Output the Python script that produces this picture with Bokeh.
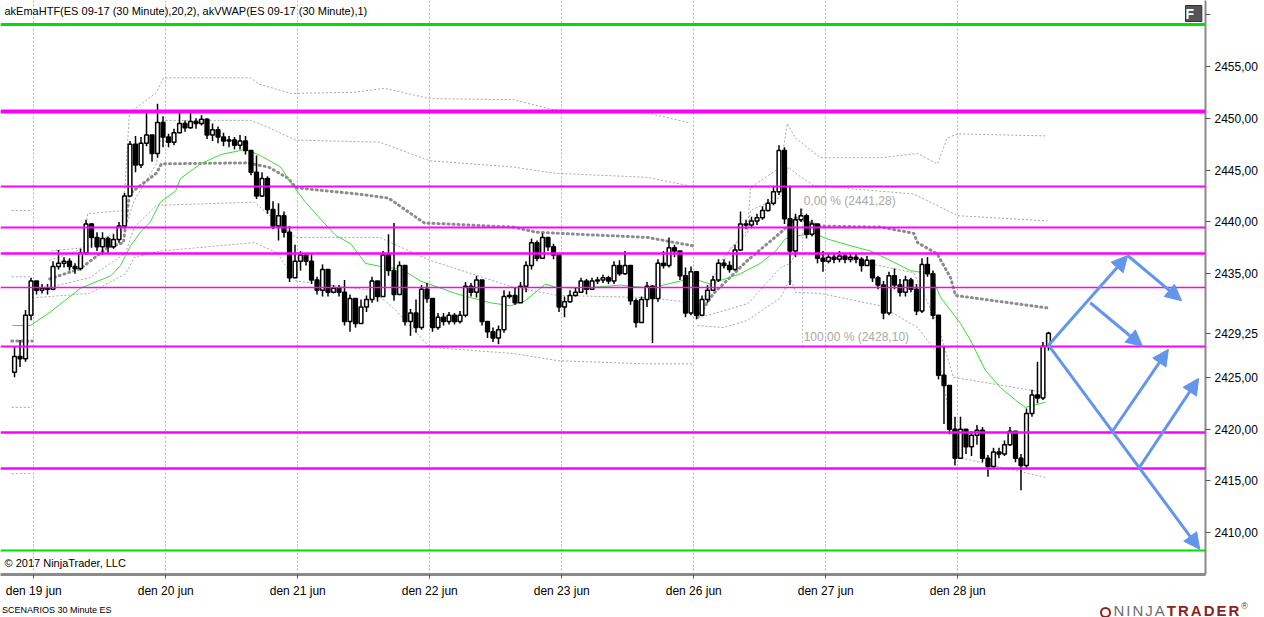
'''
ES 09-17 30 minute chart with scenario arrows, drawn with Bokeh.
'''
from bokeh.plotting import figure
from bokeh.layouts import column
from bokeh.models import (Range1d, FixedTicker, Span, Label, Arrow, NormalHead,
                          ColumnDataSource, Div)
from bokeh.embed import file_html
from bokeh.resources import INLINE

# --- price bars (about one bar per hour) ---
first_open = 2425.5
closes = [
    2427.0, 2426.8, 2431.0, 2434.3, 2433.4, 2433.6, 2433.5, 2435.7, 2436.0, 2436.2,
    2435.7, 2435.5, 2437.0, 2439.8, 2438.5, 2437.6, 2438.4, 2437.6, 2438.3, 2439.6,
    2442.5, 2447.5, 2445.5, 2447.6, 2448.4, 2446.6, 2449.6, 2448.2, 2447.7, 2448.6,
    2449.5, 2449.1, 2449.7, 2449.5, 2449.9, 2448.4, 2448.9, 2448.2, 2447.8, 2447.9,
    2447.4, 2447.8, 2446.9, 2444.8, 2442.5, 2444.2, 2441.2, 2439.6, 2440.6, 2439.0,
    2434.6, 2436.2, 2436.8, 2436.2, 2434.4, 2433.4, 2435.4, 2433.2, 2433.6, 2433.2,
    2430.4, 2432.6, 2430.2, 2431.8, 2432.5, 2434.3, 2432.8, 2436.8, 2435.3, 2433.0,
    2435.8, 2430.4, 2431.2, 2429.8, 2433.5, 2432.6, 2429.8, 2430.8, 2430.4, 2431.0,
    2430.4, 2431.0, 2433.8, 2433.2, 2434.4, 2430.4, 2429.4, 2428.8, 2429.6, 2432.8,
    2432.9, 2432.2, 2433.8, 2435.8, 2438.0, 2436.5, 2438.5, 2437.6, 2436.8, 2431.8,
    2432.3, 2432.9, 2433.2, 2434.3, 2433.5, 2434.3, 2434.4, 2434.6, 2434.3, 2435.8,
    2435.0, 2435.8, 2432.4, 2430.3, 2432.5, 2433.8, 2432.6, 2436.0, 2435.8, 2437.5,
    2437.2, 2434.8, 2431.2, 2435.2, 2431.0, 2432.5, 2433.4, 2434.4, 2436.0, 2435.8,
    2435.4, 2437.3, 2439.8, 2439.7, 2440.1, 2440.4, 2441.1, 2441.8, 2442.9, 2446.9,
    2440.3, 2437.2, 2440.2, 2440.6, 2438.8, 2439.8, 2436.5, 2436.2, 2436.6, 2436.4,
    2436.7, 2436.4, 2436.6, 2436.4, 2435.8, 2436.3, 2434.6, 2433.9, 2431.2, 2434.8,
    2433.9, 2433.2, 2434.4, 2433.5, 2431.4, 2435.9, 2435.0, 2431.0, 2425.2, 2424.2,
    2420.0, 2417.2, 2420.0, 2418.3, 2419.4, 2419.9, 2417.2, 2416.4, 2417.8, 2417.6,
    2418.5, 2419.8, 2417.2, 2416.5, 2421.5, 2423.3, 2423.0, 2428.0, 2429.25,
]
highs = [
    2428.0, 2428.6, 2431.5, 2434.6, 2434.0, 2434.0, 2434.0, 2436.2, 2437.3, 2436.6,
    2436.5, 2436.0, 2437.4, 2440.2, 2439.9, 2439.0, 2439.0, 2438.6, 2438.8, 2440.0,
    2442.8, 2447.8, 2448.3, 2448.2, 2450.5, 2448.3, 2451.4, 2450.2, 2448.5, 2449.0,
    2450.5, 2449.8, 2450.8, 2450.0, 2450.3, 2450.0, 2449.5, 2449.2, 2448.6, 2448.3,
    2448.2, 2448.4, 2448.3, 2446.9, 2446.4, 2444.8, 2444.4, 2442.0, 2441.8, 2441.0,
    2439.6, 2437.8, 2437.2, 2436.8, 2437.0, 2434.7, 2435.9, 2433.8, 2433.9, 2433.9,
    2434.4, 2433.0, 2431.6, 2432.5, 2432.9, 2434.7, 2434.1, 2437.2, 2438.8, 2439.9,
    2436.2, 2435.8, 2431.6, 2432.5, 2433.9, 2434.1, 2432.3, 2431.2, 2431.2, 2431.3,
    2431.2, 2431.4, 2434.2, 2434.1, 2434.8, 2434.4, 2430.2, 2429.8, 2430.0, 2433.4,
    2433.3, 2433.7, 2434.2, 2436.2, 2438.4, 2438.2, 2438.9, 2438.5, 2437.9, 2436.7,
    2432.8, 2433.4, 2433.7, 2434.6, 2434.5, 2434.6, 2434.7, 2434.9, 2434.8, 2436.2,
    2436.3, 2437.2, 2435.6, 2432.6, 2432.8, 2434.2, 2433.9, 2436.4, 2437.2, 2438.5,
    2437.8, 2437.2, 2435.6, 2435.7, 2433.0, 2432.9, 2433.9, 2434.8, 2436.4, 2436.4,
    2436.2, 2437.8, 2441.0, 2440.2, 2440.5, 2440.8, 2441.5, 2442.2, 2443.5, 2447.4,
    2447.2, 2443.5, 2440.8, 2441.3, 2440.8, 2440.2, 2439.8, 2437.2, 2437.0, 2437.0,
    2437.2, 2436.9, 2437.0, 2436.9, 2436.6, 2436.7, 2436.2, 2434.8, 2434.3, 2435.2,
    2435.5, 2434.5, 2434.8, 2434.6, 2434.0, 2436.5, 2436.6, 2435.3, 2431.0, 2428.0,
    2424.0, 2421.2, 2421.2, 2419.4, 2419.8, 2420.4, 2420.2, 2417.5, 2418.2, 2418.2,
    2418.9, 2420.2, 2419.7, 2417.6, 2422.0, 2423.8, 2426.5, 2428.4, 2429.4,
]
lows = [
    2425.0, 2426.0, 2426.5, 2430.5, 2433.0, 2433.1, 2433.0, 2433.4, 2435.4, 2435.6,
    2435.3, 2435.0, 2435.3, 2436.8, 2437.5, 2437.2, 2436.8, 2437.0, 2437.4, 2438.0,
    2439.4, 2442.6, 2444.8, 2445.2, 2447.3, 2445.8, 2446.2, 2447.2, 2447.2, 2447.4,
    2448.6, 2448.7, 2449.0, 2449.0, 2449.3, 2448.0, 2447.8, 2447.6, 2447.3, 2447.2,
    2447.0, 2447.0, 2446.5, 2444.5, 2442.2, 2442.4, 2440.8, 2439.3, 2438.2, 2438.5,
    2434.2, 2435.6, 2435.3, 2435.8, 2434.0, 2433.0, 2432.8, 2432.8, 2433.1, 2432.8,
    2430.0, 2429.4, 2429.8, 2430.6, 2431.3, 2432.2, 2432.3, 2432.8, 2434.8, 2432.4,
    2433.4, 2430.0, 2429.0, 2429.3, 2429.6, 2432.2, 2429.4, 2429.6, 2430.0, 2430.1,
    2430.1, 2430.2, 2430.8, 2432.8, 2432.7, 2430.0, 2428.8, 2428.4, 2428.2, 2429.3,
    2432.6, 2432.0, 2432.2, 2433.2, 2435.4, 2436.2, 2437.2, 2437.2, 2436.4, 2431.3,
    2430.8, 2432.2, 2432.8, 2433.3, 2433.0, 2433.9, 2434.0, 2434.1, 2434.0, 2434.0,
    2434.8, 2434.9, 2432.0, 2429.8, 2430.8, 2431.8, 2428.3, 2432.3, 2435.5, 2435.6,
    2436.6, 2434.4, 2430.8, 2431.0, 2430.6, 2431.2, 2432.2, 2433.4, 2434.2, 2435.5,
    2435.1, 2435.3, 2437.2, 2439.3, 2439.4, 2439.7, 2440.2, 2441.0, 2441.6, 2442.6,
    2439.8, 2433.9, 2436.6, 2440.0, 2438.4, 2438.6, 2436.0, 2435.2, 2436.0, 2436.0,
    2436.1, 2436.0, 2436.1, 2436.0, 2435.2, 2435.8, 2434.2, 2433.5, 2430.6, 2431.0,
    2433.5, 2432.8, 2432.8, 2433.2, 2431.0, 2431.2, 2434.7, 2430.6, 2424.8, 2420.5,
    2419.5, 2416.5, 2417.5, 2417.6, 2417.4, 2418.5, 2416.8, 2415.4, 2416.2, 2417.2,
    2417.4, 2418.4, 2416.8, 2414.1, 2416.2, 2421.2, 2422.5, 2422.8, 2427.6,
]
last_price = 2429.25

# --- time axis ---
day_labels = ["den 19 jun", "den 20 jun", "den 21 jun", "den 22 jun",
              "den 23 jun", "den 26 jun", "den 27 jun", "den 28 jun"]
bars_per_day = 24
first_midnight = 3.5   # bar position of the first day line

# --- indicators: (bar position, price) points, one list per week segment ---
ema_x = [-0.4, 2.9, 6.5, 12.0, 17.5, 19.3, 21.1, 22.9, 24.7, 26.5, 29.3, 30.2, 33.8,
         37.5, 42.0, 44.7, 48.4, 50.2, 52.9, 55.6, 58.4, 61.1, 63.8, 67.5, 70.2, 73.8,
         77.5, 80.2, 82.9, 86.5, 90.2, 92.9, 96.5, 98.4, 102.9, 110.2, 115.6, 121.1,
         122.9, 126.5, 132.0, 135.6, 138.4, 140.2, 142.9, 145.6, 147.5, 152.0, 155.6,
         158.4, 162.9, 166.5, 168.4, 172.0, 173.8, 176.5, 179.3, 182.0, 183.8, 187.5]
ema_y = [2430.0, 2430.0, 2431.3, 2433.6, 2434.8, 2435.8, 2437.7, 2439.0, 2440.0, 2441.9,
         2443.0, 2444.2, 2445.6, 2446.5, 2447.0, 2446.4, 2445.3, 2443.8, 2441.9, 2440.3,
         2438.7, 2437.9, 2436.0, 2435.6, 2435.5, 2434.3, 2433.6, 2433.1, 2432.7, 2432.2,
         2431.9, 2432.4, 2434.0, 2433.7, 2433.6, 2433.9, 2433.6, 2434.3, 2434.6, 2434.0,
         2435.0, 2436.0, 2437.2, 2438.4, 2438.7, 2438.9, 2438.4, 2437.7, 2437.2, 2436.5,
         2435.3, 2435.0, 2432.7, 2430.2, 2428.6, 2425.7, 2424.0, 2422.8, 2422.1, 2422.6]

vwap_x = [[-0.5, 3.2],
          [6.4, 12.0, 16.9, 19.8, 20.9, 25.8, 26.7, 42.2, 46.2, 49.8, 51.1, 62.4, 68.0,
           74.5, 90.7, 94.9, 115.1, 123.3],
          [124.2, 127.1, 133.3, 136.9, 139.8, 142.0, 146.5, 157.5, 163.5, 164.2, 167.8,
           170.2, 171.1, 187.8]]
vwap_y = [[2428.5, 2428.5],
          [2434.5, 2435.5, 2437.5, 2438.0, 2442.7, 2444.7, 2445.6, 2445.7, 2445.3, 2444.2,
           2443.3, 2442.7, 2442.3, 2439.9, 2439.5, 2439.0, 2438.5, 2437.7],
          [2430.8, 2433.1, 2436.3, 2437.9, 2439.2, 2440.4, 2439.6, 2439.5, 2438.9, 2438.0,
           2436.9, 2434.6, 2432.9, 2431.7]]

band_x = [
    [-0.5, 3.2],
    [6.7, 12.5, 13.3, 19.8, 20.9, 25.8, 27.1, 42.9, 44.5, 50.2, 61.6, 67.3, 72.2, 75.5,
     90.7, 98.2, 115.1, 122.5],
    [124.2, 128.9, 133.3, 133.8, 139.3, 140.5, 142.0, 146.5, 157.5, 164.2, 167.8, 169.6,
     171.5, 187.8],
    [-0.5, 3.2],
    [6.4, 12.9, 20.2, 21.8, 25.8, 27.1, 42.9, 46.2, 51.1, 66.4, 75.5, 90.7, 98.2, 115.1,
     122.5],
    [124.2, 130.2, 133.3, 133.8, 139.3, 140.7, 142.0, 145.3, 163.5, 171.5, 187.8],
    [-0.5, 3.2],
    [6.4, 13.6, 20.2, 21.8, 25.8, 43.6, 51.1, 66.4, 75.5, 90.7, 98.9, 115.1, 123.3],
    [124.2, 133.3, 139.3, 141.1, 142.0, 146.5, 155.1, 163.5, 167.8, 170.7, 187.8],
    [-0.5, 3.2],
    [4.0, 13.6, 20.2, 21.8, 26.7, 43.6, 47.8, 51.1, 64.9, 68.9, 75.5, 90.7, 98.9, 115.1,
     123.3],
    [124.2, 128.9, 133.3, 139.3, 141.1, 142.0, 146.5, 157.5, 164.2, 167.8, 171.5, 187.8],
]
band_y = [
    [2441.1, 2441.1],
    [2437.2, 2437.5, 2440.8, 2441.1, 2450.5, 2452.5, 2453.9, 2453.9, 2453.3, 2452.4,
     2452.5, 2452.9, 2452.3, 2451.9, 2451.8, 2450.8, 2450.5, 2449.6],
    [2431.4, 2436.6, 2439.2, 2443.3, 2445.3, 2449.5, 2448.1, 2446.2, 2446.2, 2446.6,
     2445.6, 2448.1, 2448.5, 2448.3],
    [2434.7, 2434.7],
    [2436.3, 2437.5, 2439.5, 2442.1, 2445.6, 2449.8, 2449.8, 2449.1, 2447.9, 2447.7,
     2445.9, 2445.3, 2444.7, 2444.3, 2443.5],
    [2431.2, 2437.5, 2438.9, 2441.1, 2442.4, 2445.3, 2444.7, 2443.5, 2442.7, 2440.6,
     2440.1],
    [2422.1, 2422.1],
    [2433.7, 2434.6, 2437.0, 2439.5, 2441.6, 2441.9, 2438.5, 2438.5, 2436.3, 2433.7,
     2432.9, 2432.7, 2432.2],
    [2430.7, 2432.1, 2435.6, 2436.0, 2437.0, 2436.8, 2436.0, 2435.1, 2430.2, 2425.0,
     2423.5],
    [2415.7, 2415.7],
    [2432.7, 2433.1, 2435.0, 2436.6, 2437.2, 2438.0, 2437.0, 2434.3, 2433.4, 2431.7,
     2427.9, 2427.3, 2426.6, 2426.3, 2426.3],
    [2430.0, 2429.8, 2430.5, 2432.7, 2434.6, 2433.2, 2433.1, 2431.9, 2429.8, 2427.3,
     2417.3, 2415.3],
]

# --- drawn levels ---
magenta_levels = [2450.66, 2443.42, 2439.46, 2436.95, 2433.67, 2427.97, 2419.67, 2416.2]
magenta_widths = [4, 2, 2, 2.5, 1.5, 2, 2.5, 2.5]
green_levels = [2459.05, 2408.28]
green_widths = [3, 2]

fib_x = 143.3
fib_high = 2441.28
fib_low = 2428.10

# scenario arrows: start/end (bar position, price)
arrow_x0 = [188.0, 202.4, 195.6, 188.0, 199.5, 204.4]
arrow_y0 = [2428.1, 2436.76, 2432.2, 2428.1, 2419.7, 2416.2]
arrow_x1 = [202.4, 212.2, 205.1, 215.5, 209.8, 215.3]
arrow_y1 = [2436.76, 2432.4, 2428.0, 2408.4, 2427.7, 2424.9]

price_ticks = [2410, 2415, 2420, 2425, 2435, 2440, 2445, 2450, 2455, 2460]

FONT = "Liberation Sans"
BLUE = "#6495ED"
MAGENTA = "#FF00FF"

p = figure(frame_width=1205, frame_height=574, output_backend="svg",
           toolbar_location=None,
           x_range=Range1d(-2.55, 216.55), y_range=Range1d(2405.97, 2461.37),
           y_axis_location="right", min_border_left=0, min_border_top=0,
           min_border_bottom=0, min_border_right=0, background_fill_color="white")
p.outline_line_color = None

# axes
day_ticks = [first_midnight + bars_per_day * k for k in range(len(day_labels))]
p.xaxis.ticker = FixedTicker(ticks=day_ticks)
p.xaxis.major_label_overrides = {t: lab for t, lab in zip(day_ticks, day_labels)}
p.xaxis.major_label_text_font = FONT
p.xaxis.major_label_text_font_size = "12px"
p.xaxis.major_label_text_color = "black"
p.xaxis.major_label_standoff = 5
p.xaxis.axis_line_color = "#8a8a8a"
p.xaxis.axis_line_width = 3
p.xaxis.major_tick_line_color = "#555555"
p.xaxis.major_tick_out = 4
p.xaxis.major_tick_in = 0
p.xaxis.minor_tick_line_color = None

# the last price sits on the price axis, in place of 2430
axis_ticks = sorted(price_ticks + [last_price])
labels = {t: ("%.2f" % t).replace(".", ",") for t in axis_ticks}
labels[2460] = ""
p.yaxis.ticker = FixedTicker(ticks=axis_ticks)
p.yaxis.major_label_overrides = labels
p.yaxis.major_label_text_font = FONT
p.yaxis.major_label_text_font_size = "12px"
p.yaxis.major_label_text_color = "black"
p.yaxis.major_label_standoff = 4
p.yaxis.axis_line_color = "#8a8a8a"
p.yaxis.axis_line_width = 2
p.yaxis.major_tick_line_color = "#555555"
p.yaxis.major_tick_out = 5
p.yaxis.major_tick_in = 0
p.yaxis.minor_tick_line_color = None

p.xgrid.grid_line_color = "#b4b4b4"
p.xgrid.grid_line_dash = "2 2"
p.ygrid.visible = False

# levels
for lv, w in zip(magenta_levels, magenta_widths):
    p.add_layout(Span(location=lv, dimension="width", line_color=MAGENTA, line_width=w))
for lv, w in zip(green_levels, green_widths):
    p.add_layout(Span(location=lv, dimension="width", line_color="#00E000", line_width=w))

# vwap bands and vwap
p.multi_line(band_x, band_y, line_color="#a6a6a6", line_width=1, line_dash="2 2")
p.multi_line(vwap_x, vwap_y, line_color="#8c8c8c", line_width=3, line_dash="1 4",
             line_cap="round")
p.line(ema_x, ema_y, line_color="#33e033", line_width=1)

# candles
opens = [first_open] + closes[:-1]
xs = list(range(len(closes)))
src = ColumnDataSource(dict(
    x=xs, o=opens, c=closes,
    h=[max(h, o, c) for h, o, c in zip(highs, opens, closes)],
    l=[min(l, o, c) for l, o, c in zip(lows, opens, closes)],
    top=[max(o, c) for o, c in zip(opens, closes)],
    bot=[min(o, c) for o, c in zip(opens, closes)],
    fill=["white" if c >= o else "black" for o, c in zip(opens, closes)],
))
p.segment("x", "h", "x", "l", source=src, line_color="black", line_width=1.5)
p.vbar(x="x", top="top", bottom="bot", width=0.68, source=src,
       fill_color="fill", line_color="black", line_width=1.5)

# fibonacci tool
p.segment([fib_x], [fib_high], [fib_x], [fib_low], line_color="#b0b0b0",
          line_width=1, line_dash="2 2")
for lvl, txt in [(fib_high, "0,00 % (2441,28)"), (fib_low, "100,00 % (2428,10)")]:
    p.add_layout(Label(x=fib_x, y=lvl, text=txt, text_font=FONT, text_font_size="12px",
                       text_color="#a8a8a8", text_baseline="bottom", x_offset=1, y_offset=1))

# scenario arrows
arrows = ColumnDataSource(dict(x0=arrow_x0, y0=arrow_y0, x1=arrow_x1, y1=arrow_y1))
p.add_layout(Arrow(end=NormalHead(size=16, fill_color=BLUE, line_color=BLUE),
                   x_start="x0", y_start="y0", x_end="x1", y_end="y1", source=arrows,
                   line_color=BLUE, line_width=3))

# texts
p.add_layout(Label(x=4, y=574 - 10, x_units="screen", y_units="screen",
                   text="akEmaHTF(ES 09-17 (30 Minute),20,2), akVWAP(ES 09-17 (30 Minute),1)",
                   text_font=FONT, text_font_size="11px", text_color="black",
                   text_baseline="middle"))
p.add_layout(Label(x=4, y=12, x_units="screen", y_units="screen",
                   text="\u00a9 2017 NinjaTrader, LLC", text_font=FONT,
                   text_font_size="11px", text_color="black", text_baseline="middle"))
p.add_layout(Label(x=1205 - 20, y=574 - 13, x_units="screen", y_units="screen", text=" F ",
                   text_font=FONT, text_font_size="14px", text_font_style="bold",
                   text_color="white", text_baseline="middle",
                   background_fill_color="#555555", border_line_color="#333333"))

footer = Div(
    text=("<div style=\"display:flex;justify-content:space-between;align-items:center;"
          "width:1250px;font-family:'Liberation Sans';\">"
          "<span style=\"font-size:9px;color:black;padding-left:2px\">SCENARIOS 30 Minute ES</span>"
          "<span style=\"font-size:15px;letter-spacing:2px;\">"
          "<span style=\"display:inline-block;width:11px;height:11px;border:2px solid #8c2323;"
          "border-radius:50%;vertical-align:-2px;margin-right:3px\"></span>"
          "<span style=\"color:#6e6e6e\">NINJA</span>"
          "<span style=\"color:#8c2323;font-weight:bold\">TRADER</span>"
          "<span style=\"color:#8c2323;font-size:9px;vertical-align:top\">\u00ae</span></span>"
          "</div>"),
    width=1256, height=16, margin=(0, 0, 0, 0))

open("out.html", "w").write(file_html(column(p, footer, spacing=0), INLINE))
